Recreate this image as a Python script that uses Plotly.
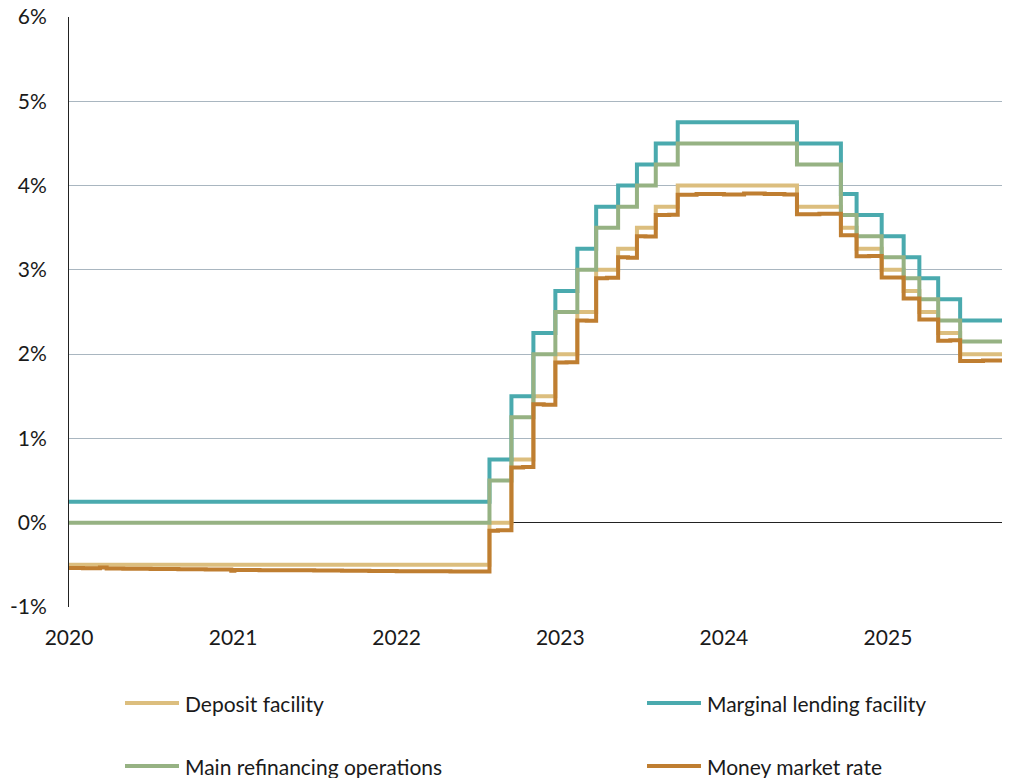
import plotly.graph_objects as go

# ---- data ----
policy_dates = ["2020-01-01", "2022-07-27", "2022-09-14", "2022-11-02", "2022-12-21",
                "2023-02-08", "2023-03-22", "2023-05-10", "2023-06-21", "2023-08-02",
                "2023-09-20", "2024-06-12", "2024-09-18", "2024-10-23", "2024-12-18",
                "2025-02-05", "2025-03-12", "2025-04-23", "2025-06-11"]
deposit = [-0.50, 0.00, 0.75, 1.50, 2.00, 2.50, 3.00, 3.25, 3.50, 3.75,
           4.00, 3.75, 3.50, 3.25, 3.00, 2.75, 2.50, 2.25, 2.00]
marginal = [0.25, 0.75, 1.50, 2.25, 2.75, 3.25, 3.75, 4.00, 4.25, 4.50,
            4.75, 4.50, 3.90, 3.65, 3.40, 3.15, 2.90, 2.65, 2.40]
mro = [0.00, 0.50, 1.25, 2.00, 2.50, 3.00, 3.50, 3.75, 4.00, 4.25,
       4.50, 4.25, 3.65, 3.40, 3.15, 2.90, 2.65, 2.40, 2.15]

mmr_dates = ["2020-01-01", "2020-02-01", "2020-03-10", "2020-03-25", "2020-05-01", "2020-07-01",
             "2020-09-01", "2020-11-01", "2020-12-28", "2021-01-04", "2021-03-01", "2021-05-01",
             "2021-07-01", "2021-09-01", "2021-11-01", "2022-01-01", "2022-03-01", "2022-05-01",
             "2022-07-01", "2022-07-27", "2022-08-15", "2022-09-14", "2022-10-10", "2022-11-02",
             "2022-11-25", "2022-12-21", "2023-01-15", "2023-02-08", "2023-03-01", "2023-03-22",
             "2023-04-15", "2023-05-10", "2023-06-01", "2023-06-21", "2023-07-10", "2023-08-02",
             "2023-09-01", "2023-09-20", "2023-11-01", "2024-01-01", "2024-02-15", "2024-04-01",
             "2024-05-15", "2024-06-12", "2024-08-01", "2024-09-18", "2024-10-23", "2024-11-20",
             "2024-12-18", "2025-02-05", "2025-03-12", "2025-04-23", "2025-05-20", "2025-06-11",
             "2025-08-01"]
mmr = [-0.537, -0.540, -0.530, -0.542, -0.546, -0.548,
       -0.552, -0.556, -0.570, -0.560, -0.563, -0.565,
       -0.567, -0.570, -0.572, -0.575, -0.577, -0.580,
       -0.580, -0.095, -0.090, 0.656, 0.660, 1.405,
       1.400, 1.900, 1.905, 2.400, 2.395, 2.900,
       2.905, 3.150, 3.145, 3.400, 3.395, 3.650,
       3.655, 3.890, 3.900, 3.895, 3.905, 3.900,
       3.895, 3.660, 3.665, 3.410, 3.160, 3.165,
       2.910, 2.660, 2.410, 2.160, 2.165, 1.920,
       1.925]

end_date = "2025-09-28"
year_ticks = ["2020-01-01", "2021-01-01", "2022-01-01", "2023-01-01", "2024-01-01", "2025-01-01"]
year_labels = ["2020", "2021", "2022", "2023", "2024", "2025"]
y_ticks = [-1, 0, 1, 2, 3, 4, 5, 6]
y_labels = ["-1%", "0%", "1%", "2%", "3%", "4%", "5%", "6%"]

names = ["Deposit facility", "Marginal lending facility",
         "Main refinancing operations", "Money market rate"]
colors = ["#dcbe7e", "#4aaaae", "#96b283", "#bf7e31"]

FONT = "Lato"
TXT = "#1a1a1a"
FS = 21

fig = go.Figure()

def add_step(dates, vals, color, name):
    fig.add_trace(go.Scatter(
        x=list(dates) + [end_date], y=list(vals) + [vals[-1]],
        mode="lines", line=dict(color=color, width=4, shape="hv"),
        name=name, showlegend=False, hoverinfo="x+y"))

add_step(policy_dates, deposit, colors[0], names[0])
add_step(policy_dates, marginal, colors[1], names[1])
add_step(policy_dates, mro, colors[2], names[2])
add_step(mmr_dates, mmr, colors[3], names[3])

# figure geometry (page body adds an 8px offset)
FW, FH = 1002, 770
L, R, T, B = 61, 1001, 9, 599
W, H = R - L, B - T

def px(x):
    return (x - L) / W

def py(y):
    return (B - y) / H

# manual legend
legend_items = [(117, 695, 0), (639, 695, 1), (117, 758, 2), (639, 758, 3)]
for lx, ly, i in legend_items:
    fig.add_shape(type="line", xref="paper", yref="paper",
                  x0=px(lx), x1=px(lx + 54), y0=py(ly), y1=py(ly),
                  line=dict(color=colors[i], width=4))
    fig.add_annotation(xref="paper", yref="paper", x=px(lx + 58), y=py(ly),
                       text=names[i], showarrow=False, xanchor="left", yanchor="middle",
                       font=dict(family=FONT, size=FS, color=TXT))

fig.update_layout(
    width=FW, height=FH,
    margin=dict(l=L, r=FW - R, t=T, b=FH - B, autoexpand=False),
    paper_bgcolor="white", plot_bgcolor="white",
    font=dict(family=FONT, size=FS, color=TXT),
    showlegend=False,
)
fig.update_xaxes(
    type="date", range=["2020-01-01", end_date],
    tickvals=year_ticks, ticktext=year_labels,
    showgrid=False, showline=False, zeroline=False, ticks="",
    tickfont=dict(family=FONT, size=FS, color=TXT),
    ticklabelstandoff=16, ticklabeloverflow="allow", automargin=False,
)
fig.update_yaxes(
    range=[-1, 6], tickvals=y_ticks, ticktext=y_labels,
    showgrid=True, gridcolor="#a9b6c0", gridwidth=1,
    zeroline=True, zerolinecolor="#222222", zerolinewidth=1,
    showline=True, linecolor="#222222", linewidth=1,
    ticks="", tickfont=dict(family=FONT, size=FS, color=TXT),
    ticklabelstandoff=17, ticklabeloverflow="allow", automargin=False,
)

fig.write_html("out.html")
